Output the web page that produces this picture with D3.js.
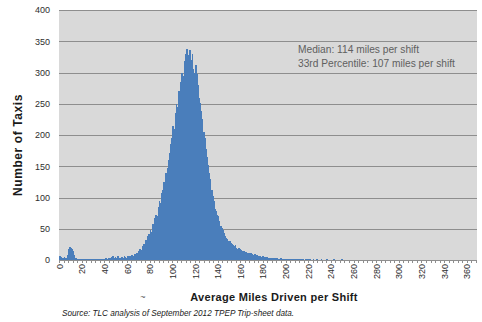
<!DOCTYPE html>
<html>
<head>
<meta charset="utf-8">
<script src="https://cdn.jsdelivr.net/npm/d3@7"></script>
<style>
  html, body { margin: 0; padding: 0; background: #fff; }
  svg { display: block; }
</style>
</head>
<body>
<svg id="chart" width="482" height="322"></svg>
<script>
// Number of taxis by average miles driven per shift (one bin per mile, 0 upward)
const taxiCounts = [
  6, 5, 4, 4, 5, 3, 4, 8, 17, 21, 20, 18, 14, 8, 4, 2, 2, 1, 1, 1,
  1, 1, 0, 1, 1, 0, 1, 1, 2, 1, 1, 1, 1, 2, 1, 1, 2, 1, 2, 2,
  2, 3, 2, 3, 4, 3, 5, 6, 4, 5, 4, 6, 3, 4, 3, 5, 4, 6, 5, 4,
  6, 5, 7, 6, 8, 7, 9, 10, 12, 11, 14, 18, 16, 22, 26, 24, 32, 30, 38, 42,
  48, 45, 58, 55, 68, 72, 70, 85, 95, 92, 108, 112, 125, 120, 140, 148, 160, 172, 185, 195,
  215, 210, 235, 250, 245, 270, 262, 285, 300, 295, 318, 330, 338, 318, 328, 336, 320, 330, 305, 300,
  312, 298, 280, 260, 252, 238, 225, 205, 195, 178, 165, 152, 140, 130, 112, 102, 95, 82, 78, 72,
  70, 62, 55, 52, 48, 44, 38, 36, 33, 30, 30, 28, 26, 24, 22, 24, 20, 18, 19, 17,
  16, 15, 14, 15, 13, 12, 12, 11, 10, 11, 9, 8, 9, 7, 8, 6, 7, 6, 5, 6,
  5, 5, 4, 5, 4, 3, 4, 3, 3, 3, 3, 2, 3, 2, 2, 3, 2, 2, 1, 2,
  2, 1, 2, 1, 1, 2, 1, 1, 1, 1, 1, 1, 1, 0, 1, 1, 0, 1, 0, 1,
  0, 1, 0, 0, 1, 0, 0, 1, 0, 0, 0, 1, 0, 0, 0, 0, 1, 0, 0, 0,
  0, 0, 1, 0, 0, 0, 0, 0, 0, 1
];
const binCount = 369;                 // categories 0 .. 368 on the axis
const xTickLabels = d3.range(0, 361, 20);
const yTickLabels = [0, 50, 100, 150, 200, 250, 300, 350, 400];
const notes = ["Median: 114 miles per shift", "33rd Percentile: 107 miles per shift"];

const svg = d3.select("#chart");
const plot = { left: 59, top: 10, right: 477, bottom: 260 };

const x = d3.scaleLinear().domain([0, binCount]).range([plot.left, plot.right]);
const y = d3.scaleLinear().domain([0, 400]).range([plot.bottom, plot.top]);

// plot background
svg.append("rect")
  .attr("x", plot.left).attr("y", plot.top)
  .attr("width", plot.right - plot.left).attr("height", plot.bottom - plot.top)
  .attr("fill", "#d9d9d9");

// horizontal gridlines
svg.append("g")
  .selectAll("line")
  .data(yTickLabels.filter(d => d > 0))
  .join("line")
  .attr("x1", plot.left).attr("x2", plot.right)
  .attr("y1", d => Math.round(y(d)) + 0.5).attr("y2", d => Math.round(y(d)) + 0.5)
  .attr("stroke", "#8e8e8e").attr("stroke-width", 1);

// histogram bars (adjacent bins, no gaps)
svg.append("g")
  .attr("shape-rendering", "crispEdges")
  .selectAll("rect")
  .data(taxiCounts.map((v, i) => ({ mile: i, v })))
  .join("rect")
  .attr("x", d => x(d.mile))
  .attr("width", d => x(d.mile + 1) - x(d.mile) + 0.6)
  .attr("y", d => y(d.v))
  .attr("height", d => y(0) - y(d.v))
  .attr("fill", "#4a7ebb");

// y axis
const yAxis = d3.axisLeft(y).tickValues(yTickLabels).tickSize(0).tickPadding(9);
svg.append("g")
  .attr("transform", `translate(${plot.left},0)`)
  .call(yAxis)
  .call(g => g.select(".domain").remove())
  .call(g => g.selectAll("text")
    .attr("font-family", "Liberation Sans, Arial, sans-serif")
    .attr("font-size", 9)
    .attr("fill", "#2e2e2e"));

// x axis: minor ticks every 4 categories, rotated labels every 20
const xAxisG = svg.append("g").attr("transform", `translate(0,${plot.bottom})`);
xAxisG.append("line")
  .attr("x1", plot.left).attr("x2", plot.right)
  .attr("y1", 0.5).attr("y2", 0.5)
  .attr("stroke", "#8e8e8e");
xAxisG.selectAll("line.tick")
  .data(d3.range(0, binCount + 1, 4))
  .join("line")
  .attr("class", "tick")
  .attr("x1", d => Math.round(x(d)) + 0.5).attr("x2", d => Math.round(x(d)) + 0.5)
  .attr("y1", 0).attr("y2", 3)
  .attr("stroke", "#8e8e8e");
xAxisG.selectAll("text")
  .data(xTickLabels)
  .join("text")
  .attr("transform", d => `translate(${x(d + 0.5) + 3},4) rotate(-90)`)
  .attr("text-anchor", "end")
  .attr("font-family", "Liberation Sans, Arial, sans-serif")
  .attr("font-size", 9)
  .attr("fill", "#2e2e2e")
  .text(d => d);

// axis titles
svg.append("text")
  .attr("transform", "translate(22,145) rotate(-90)")
  .attr("text-anchor", "middle")
  .attr("font-family", "Liberation Sans, Arial, sans-serif")
  .attr("font-weight", "bold")
  .attr("font-size", 12)
  .attr("letter-spacing", 0.6)
  .attr("fill", "#1a1a1a")
  .text("Number of Taxis");

svg.append("text")
  .attr("x", 274).attr("y", 301)
  .attr("text-anchor", "middle")
  .attr("font-family", "Liberation Sans, Arial, sans-serif")
  .attr("font-weight", "bold")
  .attr("font-size", 11)
  .attr("letter-spacing", 0.3)
  .attr("fill", "#1a1a1a")
  .text("Average Miles Driven per Shift");

svg.append("text")
  .attr("x", 143).attr("y", 300)
  .attr("text-anchor", "middle")
  .attr("font-family", "Liberation Sans, Arial, sans-serif")
  .attr("font-size", 9)
  .attr("fill", "#555")
  .text("~");

// source line
svg.append("text")
  .attr("x", 62).attr("y", 316)
  .attr("font-family", "Liberation Sans, Arial, sans-serif")
  .attr("font-style", "italic")
  .attr("font-size", 8.2)
  .attr("fill", "#222")
  .text("Source: TLC analysis of September 2012 TPEP Trip-sheet data.");

// summary statistics note
svg.append("g")
  .selectAll("text")
  .data(notes)
  .join("text")
  .attr("x", 298)
  .attr("y", (d, i) => 53 + i * 13.5)
  .attr("font-family", "Liberation Sans, Arial, sans-serif")
  .attr("font-size", 10.2)
  .attr("fill", "#606060")
  .text(d => d);
</script>
</body>
</html>
